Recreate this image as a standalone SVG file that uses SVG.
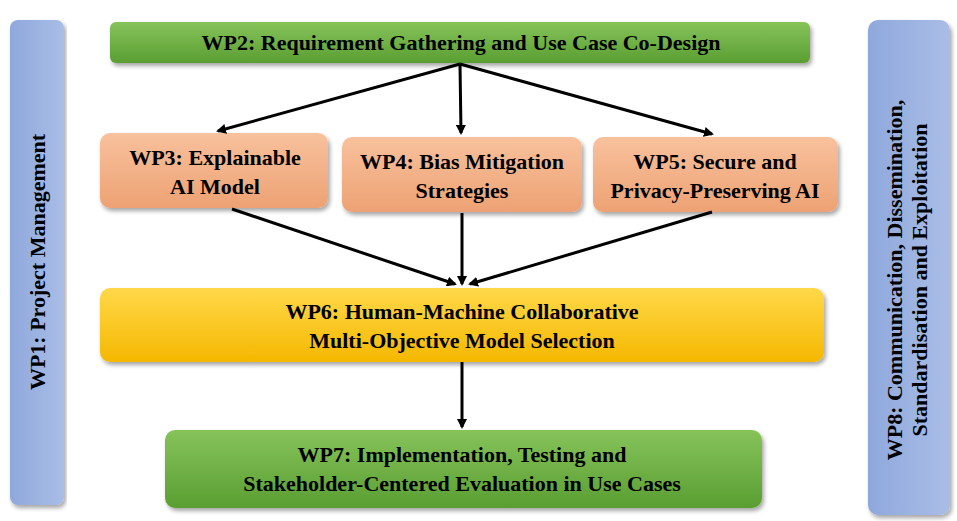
<svg xmlns="http://www.w3.org/2000/svg" width="957" height="521" viewBox="0 0 957 521">
<defs>
<linearGradient id="gGreen" x1="0" y1="0" x2="0" y2="1"><stop offset="0" stop-color="#86c35a"/><stop offset="1" stop-color="#5a9e32"/></linearGradient>
<linearGradient id="gOrange" x1="0" y1="0" x2="0" y2="1"><stop offset="0" stop-color="#f8c19d"/><stop offset="1" stop-color="#eda273"/></linearGradient>
<linearGradient id="gYellow" x1="0" y1="0" x2="0" y2="1"><stop offset="0" stop-color="#ffd84a"/><stop offset="1" stop-color="#f5b800"/></linearGradient>
<linearGradient id="gBlue" x1="0" y1="0" x2="1" y2="0"><stop offset="0" stop-color="#8fa8dc"/><stop offset="1" stop-color="#a9bde6"/></linearGradient>
<filter id="sh" x="-5%" y="-20%" width="110%" height="140%"><feDropShadow dx="2" dy="3" stdDeviation="2" flood-color="#000" flood-opacity="0.35"/></filter>
<marker id="ah" markerWidth="10" markerHeight="10" refX="8" refY="5" orient="auto" markerUnits="userSpaceOnUse"><path d="M0,0 L10,5 L0,10 z" fill="#000"/></marker>
<style>
text{font-family:"Liberation Serif","Times New Roman",serif;font-weight:bold;font-size:22px;fill:#000;text-anchor:middle}
.c{stroke:#000;stroke-width:3;fill:none;marker-end:url(#ah)}
</style>
</defs>
<g id="wp1"><rect x="10" y="20" width="54" height="485" rx="8" fill="url(#gBlue)" filter="url(#sh)"/><text transform="translate(45,262) rotate(-90)">WP1: Project Management</text></g>
<g id="wp8"><rect x="868" y="20" width="82" height="495" rx="10" fill="url(#gBlue)" filter="url(#sh)"/><text transform="translate(908,280) rotate(-90)"><tspan x="0" dy="-6">WP8: Communication, Dissemination,</tspan><tspan x="0" dy="25">Standardisation and Exploitation</tspan></text></g>
<g id="wp2"><rect x="110" y="22" width="700" height="41" rx="6" fill="url(#gGreen)" filter="url(#sh)"/><text x="461" y="50">WP2: Requirement Gathering and Use Case Co-Design</text></g>
<g id="wp3"><rect x="100" y="133" width="228" height="75" rx="10" fill="url(#gOrange)" filter="url(#sh)"/><text x="215" y="165">WP3: Explainable</text><text x="215" y="194">AI Model</text></g>
<g id="wp4"><rect x="342" y="137" width="240" height="75" rx="10" fill="url(#gOrange)" filter="url(#sh)"/><text x="462" y="169">WP4: Bias Mitigation</text><text x="462" y="198">Strategies</text></g>
<g id="wp5"><rect x="593" y="137" width="245" height="75" rx="10" fill="url(#gOrange)" filter="url(#sh)"/><text x="715" y="169">WP5: Secure and</text><text x="715" y="198">Privacy-Preserving AI</text></g>
<g id="wp6"><rect x="100" y="288" width="724" height="74" rx="10" fill="url(#gYellow)" filter="url(#sh)"/><text x="462" y="319">WP6: Human-Machine Collaborative</text><text x="462" y="348">Multi-Objective Model Selection</text></g>
<g id="wp7"><rect x="165" y="430" width="597" height="78" rx="10" fill="url(#gGreen)" filter="url(#sh)"/><text x="462" y="462">WP7: Implementation, Testing and</text><text x="462" y="491">Stakeholder-Centered Evaluation in Use Cases</text></g>
<g id="connectors">
<line class="c" x1="460" y1="64" x2="218" y2="131"/>
<line class="c" x1="460" y1="64" x2="461" y2="133"/>
<line class="c" x1="460" y1="64" x2="712" y2="134"/>
<line class="c" x1="232" y1="209" x2="455" y2="284"/>
<line class="c" x1="462" y1="213" x2="462" y2="284"/>
<line class="c" x1="712" y1="212" x2="470" y2="284"/>
<line class="c" x1="462" y1="362" x2="462" y2="427"/>
</g>
</svg>
